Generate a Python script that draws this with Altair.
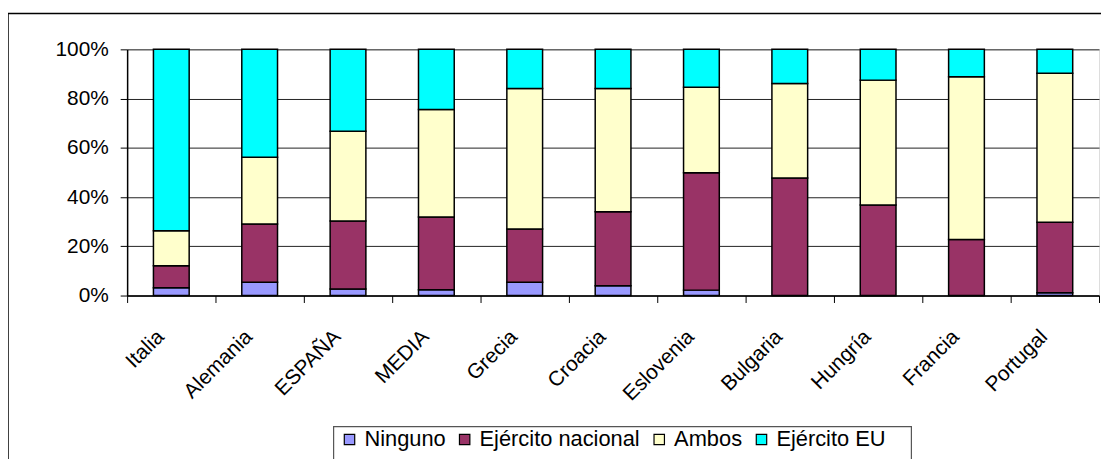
import altair as alt
import pandas as pd

categories = ["Italia", "Alemania", "ESPAÑA", "MEDIA", "Grecia", "Croacia",
              "Eslovenia", "Bulgaria", "Hungría", "Francia", "Portugal"]
series = ["Ninguno", "Ejército nacional", "Ambos", "Ejército EU"]
colors = ["#9999FF", "#993366", "#FFFFCC", "#00FFFF"]

ninguno = [3.2, 5.4, 2.7, 2.4, 5.4, 4.0, 2.2, 0.0, 0.0, 0.0, 1.1]
nacional = [8.9, 23.7, 27.6, 29.5, 21.6, 30.0, 47.7, 47.7, 36.8, 22.8, 28.7]
ambos = [14.2, 27.1, 36.4, 43.7, 57.1, 50.1, 34.7, 38.4, 50.7, 66.1, 60.5]
eu = [73.7, 43.8, 33.3, 24.4, 15.9, 15.9, 15.4, 13.9, 12.5, 11.1, 9.7]

values = [ninguno, nacional, ambos, eu]
rows = []
for si, (s, vals) in enumerate(zip(series, values)):
    for c, v in zip(categories, vals):
        rows.append({"pais": c, "serie": s, "valor": v, "orden": si})
df = pd.DataFrame(rows)

FONT = "Liberation Sans"
FS = 21

bars = alt.Chart(df).mark_bar(size=36, stroke="black", strokeWidth=1.5).encode(
    x=alt.X("pais:N", sort=categories, title=None,
            scale=alt.Scale(paddingInner=0, paddingOuter=0),
            axis=alt.Axis(labelAngle=-45, labelAlign="right", labelBaseline="middle",
                          labelFontSize=FS, labelFont=FONT, labelColor="black",
                          labelPadding=31, labelOffset=-11, labelLimit=0,
                          tickBand="extent", tickSize=7, tickColor="black",
                          domainColor="black", domainWidth=1.5, grid=False)),
    y=alt.Y("valor:Q", stack="normalize", title=None,
            scale=alt.Scale(domain=[0, 1], nice=False),
            axis=alt.Axis(format=".0%", values=[0, 0.2, 0.4, 0.6, 0.8, 1.0],
                          labelFontSize=FS, labelFont=FONT, labelColor="black",
                          labelPadding=12, tickSize=7, tickColor="black",
                          domainColor="black", domainWidth=1.5,
                          grid=True, gridColor="#222222", gridWidth=1)),
    color=alt.Color("serie:N", sort=series,
                    scale=alt.Scale(domain=series, range=colors),
                    legend=alt.Legend(title=None, orient="none", legendX=213, legendY=382,
                                      direction="horizontal", columns=4,
                                      symbolType="square", symbolSize=110,
                                      symbolStrokeColor="black", symbolStrokeWidth=1.2,
                                      symbolOpacity=1, labelOffset=4, labelLimit=0,
                                      labelFontSize=22, labelFont=FONT, labelColor="black",
                                      columnPadding=8, symbolOffset=0, padding=0)),
    order=alt.Order("orden:Q", sort="ascending"),
)

frame_df = pd.DataFrame({"a": [0]})
frame = alt.Chart(frame_df).mark_rect(
    fill="transparent", stroke="black", strokeWidth=1.5, clip=False
).encode(
    x=alt.value(-120), x2=alt.value(1010), y=alt.value(-36), y2=alt.value(520)
)
legend_box = alt.Chart(frame_df).mark_rect(
    fill="transparent", stroke="#555555", strokeWidth=1.2, clip=False
).encode(
    x=alt.value(208), x2=alt.value(790), y=alt.value(380), y2=alt.value(520)
)

chart = alt.layer(frame, legend_box, bars).properties(
    width=979, height=248,
    autosize=alt.AutoSizeParams(type="none"),
    padding={"left": 120, "top": 40, "right": 2, "bottom": 163},
).configure_view(stroke="#888888", strokeWidth=1.5).configure(background="white")

chart.save("out.html", embed_options={"renderer": "svg", "actions": False})
